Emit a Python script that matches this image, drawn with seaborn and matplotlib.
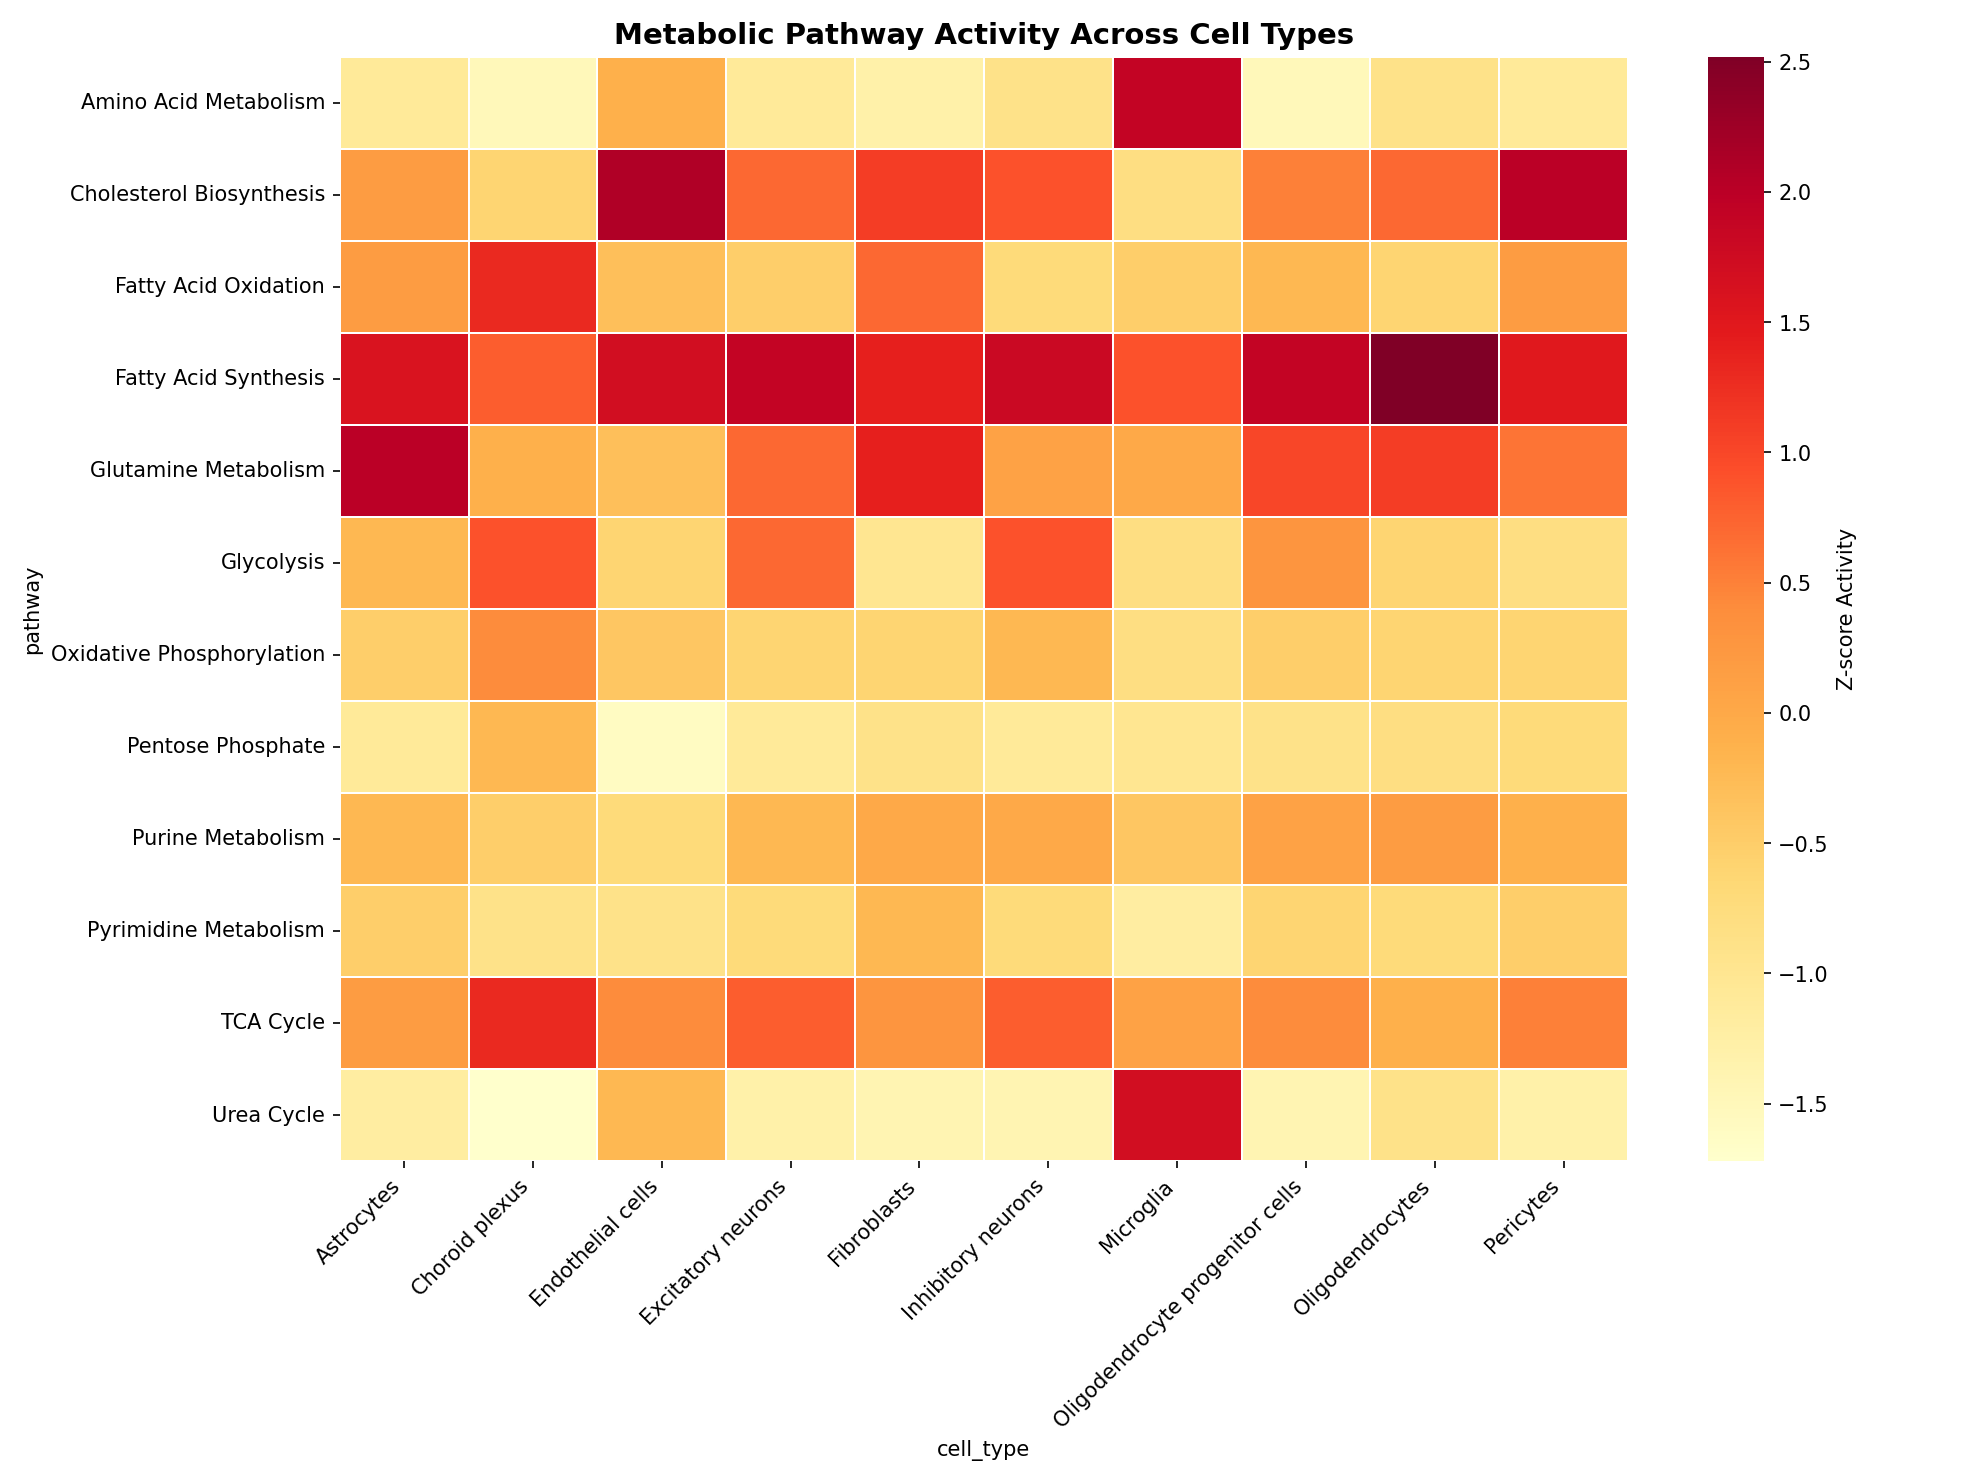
import numpy as np
import pandas as pd
import matplotlib
matplotlib.use("Agg")
import matplotlib.pyplot as plt
import seaborn as sns

pathways = ["Amino Acid Metabolism", "Cholesterol Biosynthesis", "Fatty Acid Oxidation",
            "Fatty Acid Synthesis", "Glutamine Metabolism", "Glycolysis",
            "Oxidative Phosphorylation", "Pentose Phosphate", "Purine Metabolism",
            "Pyrimidine Metabolism", "TCA Cycle", "Urea Cycle"]
cell_types = ["Astrocytes", "Choroid plexus", "Endothelial cells", "Excitatory neurons",
              "Fibroblasts", "Inhibitory neurons", "Microglia",
              "Oligodendrocyte progenitor cells", "Oligodendrocytes", "Pericytes"]

amino_acid = [-1.1, -1.5, -0.1, -1.1, -1.3, -0.9, 1.9, -1.5, -0.9, -1.1]
cholesterol = [0.2, -0.6, 2.1, 0.7, 1.1, 0.9, -0.8, 0.5, 0.7, 2.0]
fao = [0.2, 1.3, -0.3, -0.5, 0.7, -0.7, -0.5, -0.2, -0.6, 0.2]
fas = [1.6, 0.8, 1.7, 1.9, 1.4, 1.8, 0.9, 1.9, 2.52, 1.5]
glutamine = [2.0, -0.1, -0.3, 0.7, 1.4, 0.1, 0.0, 1.0, 1.1, 0.6]
glycolysis = [-0.2, 0.9, -0.6, 0.7, -1.0, 0.9, -0.8, 0.3, -0.6, -0.8]
oxphos = [-0.5, 0.4, -0.4, -0.6, -0.6, -0.2, -0.8, -0.5, -0.6, -0.6]
pentose = [-1.1, -0.2, -1.6, -1.1, -0.9, -1.1, -1.0, -0.9, -0.8, -0.7]
purine = [-0.2, -0.5, -0.7, -0.2, 0.0, 0.0, -0.4, 0.1, 0.2, -0.1]
pyrimidine = [-0.5, -0.9, -0.9, -0.7, -0.2, -0.7, -1.2, -0.6, -0.7, -0.5]
tca = [0.2, 1.3, 0.4, 0.8, 0.3, 0.8, 0.1, 0.4, -0.1, 0.5]
urea = [-1.2, -1.72, -0.2, -1.3, -1.4, -1.4, 1.7, -1.4, -0.9, -1.3]

data = pd.DataFrame([amino_acid, cholesterol, fao, fas, glutamine, glycolysis, oxphos,
                     pentose, purine, pyrimidine, tca, urea],
                    index=pd.Index(pathways, name="pathway"),
                    columns=pd.Index(cell_types, name="cell_type"))

fig, ax = plt.subplots(figsize=(13.15, 9.89), dpi=150)
sns.heatmap(data, cmap="YlOrRd", linewidths=0.8, linecolor="white",
            cbar_kws={"label": "Z-score Activity"}, ax=ax)
ax.set_title("Metabolic Pathway Activity Across Cell Types", fontsize=14, fontweight="bold")
plt.setp(ax.get_xticklabels(), rotation=45, ha="right")
plt.setp(ax.get_yticklabels(), rotation=0)
plt.tight_layout()
fig.savefig("out.png", dpi=150)
